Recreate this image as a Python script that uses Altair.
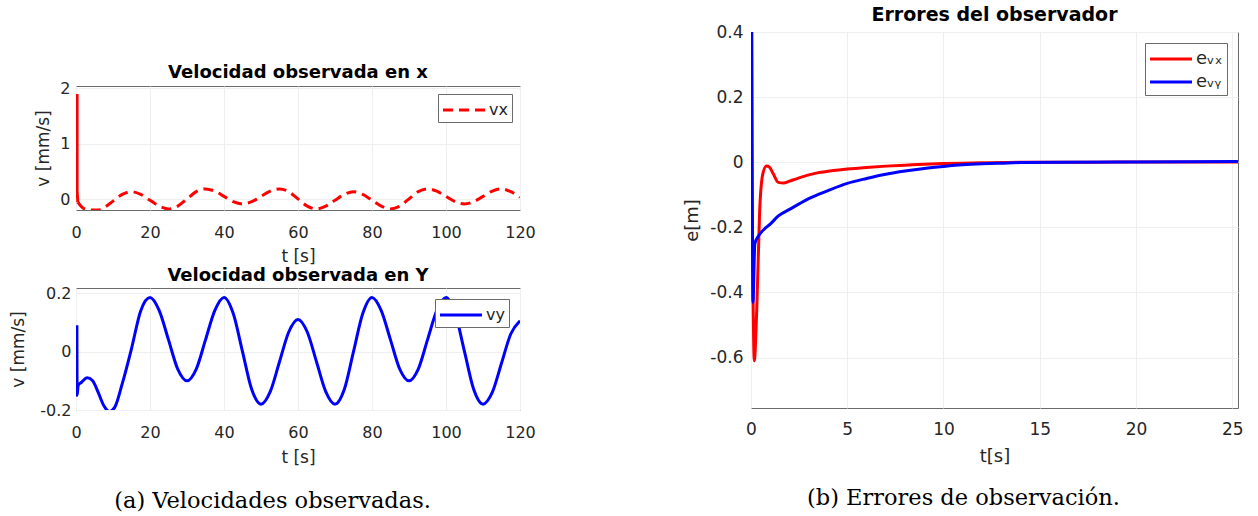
import altair as alt
import pandas as pd

FONT = "DejaVu Sans"
SERIF = "DejaVu Serif"
RED = "#ff0000"
BLUE = "#0000ff"
FRAME = "#6b6b6b"
TXT = "#262626"

# ---- (a) top: observed velocity in x ----
vx_spike_t = [0.3, 0.3, 0.5]
vx_spike_v = [1.9, 0.15, -0.05]
vx_t = [0.5, 2, 4, 6, 7.5, 10, 12.5, 15, 17.5, 20, 22.5, 25, 27.5, 30, 32.5, 35, 37.5, 40,
        42.5, 45, 47.5, 50, 52.5, 55, 57.5, 60, 62.5, 65, 67.5, 70, 72.5, 75, 77.5, 80,
        82.5, 85, 87.5, 90, 92.5, 95, 97.5, 100, 102.5, 105, 107.5, 110, 112.5, 115, 117.5, 120]
vx_v = [-0.05, -0.16, -0.19, -0.19, -0.15, -0.03, 0.09, 0.14, 0.09, -0.015, -0.12, -0.17,
        -0.12, 0.01, 0.14, 0.19, 0.15, 0.055, -0.04, -0.08, -0.04, 0.055, 0.15, 0.19, 0.14,
        0.01, -0.12, -0.17, -0.12, -0.015, 0.09, 0.14, 0.09, -0.015, -0.12, -0.17, -0.12,
        0.01, 0.14, 0.19, 0.15, 0.055, -0.04, -0.08, -0.04, 0.055, 0.15, 0.19, 0.14, 0.04]

# ---- (a) bottom: observed velocity in y ----
vy_t = [0.25, 0.3, 0.6, 1.5, 3, 4.5, 6, 7.5, 9, 10.5, 12.5, 15, 17.5, 20, 22.5, 25, 27.5, 30,
        32.5, 35, 37.5, 40, 42.5, 45, 47.5, 50, 52.5, 55, 57.5, 60, 62.5, 65, 67.5, 70, 72.5,
        75, 77.5, 80, 82.5, 85, 87.5, 90, 92.5, 95, 97.5, 100, 102.5, 105, 107.5, 110, 112.5,
        115, 117.5, 120]
vy_v = [0.09, -0.15, -0.115, -0.105, -0.09, -0.1, -0.14, -0.185, -0.205, -0.19, -0.11, 0.01,
        0.14, 0.185, 0.14, 0.04, -0.06, -0.1, -0.06, 0.04, 0.14, 0.185, 0.13, 0.0, -0.13,
        -0.18, -0.137, -0.035, 0.067, 0.11, 0.067, -0.035, -0.137, -0.18, -0.13, 0.0, 0.13,
        0.185, 0.14, 0.04, -0.06, -0.1, -0.06, 0.04, 0.14, 0.185, 0.13, 0.0, -0.13, -0.18,
        -0.14, -0.04, 0.06, 0.105]

# ---- (b) observer errors ----
ex_t = [0, 0.08, 0.17, 0.3, 0.45, 0.6, 0.8, 0.95, 1.15, 1.42, 1.7, 2, 2.5, 3, 3.5, 4, 5, 6,
        7, 8, 9, 10, 11, 12, 13, 14, 16, 18, 20, 22, 25.3]
ex_v = [0, -0.3, -0.61, -0.45, -0.15, -0.04, -0.012, -0.015, -0.035, -0.062, -0.064, -0.058,
        -0.048, -0.039, -0.032, -0.028, -0.021, -0.016, -0.012, -0.009, -0.006, -0.004,
        -0.003, -0.002, -0.001, 0, 0, 0, 0.001, 0.001, 0.001]
ey_t = [0, 0.03, 0.1, 0.2, 0.38, 0.7, 1, 1.42, 2, 2.5, 3, 3.5, 4, 5, 6, 7, 8, 9, 10, 11, 12,
        13, 14, 16, 20, 25.3]
ey_v = [0, 0.45, -0.43, -0.25, -0.227, -0.205, -0.19, -0.165, -0.145, -0.128, -0.112, -0.099,
        -0.087, -0.065, -0.05, -0.037, -0.027, -0.019, -0.013, -0.008, -0.005, -0.003,
        -0.001, 0, 0.001, 0.002]

x120_ticks = [0, 20, 40, 60, 80, 100, 120]
x25_ticks = [0, 5, 10, 15, 20, 25]
vx_ticks = [0, 1, 2]
vy_ticks = [-0.2, 0, 0.2]
e_ticks = [-0.6, -0.4, -0.2, 0, 0.2, 0.4]

vx_name = "vx"
vy_name = "vy"
e_names = ["e\u1d65\u2093", "e\u1d65\u1d67"]

spike_df = pd.DataFrame({"t": vx_spike_t, "v": vx_spike_v})
vx_df = pd.DataFrame({"t": vx_t, "v": vx_v, "s": vx_name})
vy_df = pd.DataFrame({"t": vy_t, "v": vy_v, "s": vy_name})
e_df = pd.concat([
    pd.DataFrame({"t": ex_t, "v": ex_v, "s": e_names[0], "o": 0}),
    pd.DataFrame({"t": ey_t, "v": ey_v, "s": e_names[1], "o": 1}),
])

DEC = ("datum.value == 0 ? '0' : (datum.value < 0 ? '-' + format(-datum.value, '.1f')"
       " : format(datum.value, '.1f'))")
INT = "format(datum.value, 'd')"


def xaxis(vals, title, lfs, tfs, lpad, tpad):
    return alt.Axis(values=vals, title=title, labelFontSize=lfs, titleFontSize=tfs,
                    labelPadding=lpad, titlePadding=tpad, labelFlush=False,
                    labelOverlap=False, grid=True, ticks=False, tickSize=0, domain=False)


def yaxis(vals, title, lfs, tfs, lpad, tpad, expr):
    return alt.Axis(values=vals, title=title, labelFontSize=lfs, titleFontSize=tfs,
                    labelPadding=lpad, titlePadding=tpad, labelFlush=False,
                    labelOverlap=False, grid=True, ticks=False, tickSize=0, domain=False,
                    labelExpr=expr)


def legend(offset, fs, rowpad=0):
    return alt.Legend(title=None, orient="top-right", offset=offset, strokeColor=FRAME,
                      fillColor="white", padding=4, symbolType="M-2,0H2", symbolSize=441,
                      symbolStrokeWidth=3, symbolOffset=10, labelOffset=13,
                      labelFont=FONT, labelFontSize=fs, labelColor=TXT, rowPadding=rowpad)


def ptitle(text, fs, off):
    return alt.TitleParams(text, fontSize=fs, font=FONT, fontWeight="bold", color="black",
                           offset=off, anchor="middle")


# top-left
xs_a = alt.Scale(domain=[0, 120], nice=False, zero=False)
ys_top = alt.Scale(domain=[-0.19, 2.043], nice=False, zero=False)
spike = alt.Chart(spike_df).mark_line(color=RED, strokeWidth=3, clip=True).encode(
    x=alt.X("t:Q", scale=xs_a), y=alt.Y("v:Q", scale=ys_top))
vx_line = alt.Chart(vx_df).mark_line(strokeWidth=3, interpolate="monotone", clip=True).encode(
    x=alt.X("t:Q", scale=xs_a, axis=xaxis(x120_ticks, "t [s]", 16, 17, 14, 8)),
    y=alt.Y("v:Q", scale=ys_top, axis=yaxis(vx_ticks, "v [mm/s]", 16, 17, 6, 7, INT)),
    color=alt.Color("s:N", scale=alt.Scale(domain=[vx_name], range=[RED]), legend=legend(8, 16)),
    strokeDash=alt.StrokeDash("s:N", scale=alt.Scale(domain=[vx_name], range=[[10, 6]]),
                              legend=legend(8, 16)),
)
top_chart = alt.layer(spike, vx_line).properties(
    width=444, height=124, title=ptitle("Velocidad observada en x", 18, -2))

# bottom-left
ys_bot = alt.Scale(domain=[-0.2, 0.2175], nice=False, zero=False)
bot_chart = alt.Chart(vy_df).mark_line(strokeWidth=3, interpolate="monotone", clip=True).encode(
    x=alt.X("t:Q", scale=xs_a, axis=xaxis(x120_ticks, "t [s]", 16, 17, 14, 9)),
    y=alt.Y("v:Q", scale=ys_bot, axis=yaxis(vy_ticks, "v [mm/s]", 16, 17, 5, 12, DEC)),
    color=alt.Color("s:N", scale=alt.Scale(domain=[vy_name], range=[BLUE]), legend=legend(11, 16)),
).properties(width=444, height=122, title=ptitle("Velocidad observada en Y", 18, 0))

spacer = alt.Chart(pd.DataFrame({"k": [0]})).mark_point(opacity=0).encode(
    x=alt.value(0), y=alt.value(0)
).properties(width=444, height=30, view=alt.ViewBackground(strokeOpacity=0))

left = alt.vconcat(
    spacer, top_chart, bot_chart, spacing=1,
    title=alt.TitleParams("(a) Velocidades observadas.", orient="bottom", font=SERIF,
                          fontSize=22.5, fontWeight="normal", color="black", offset=24,
                          anchor="middle", frame="bounds"),
).resolve_scale(color="independent", strokeDash="independent").resolve_legend(
    color="independent", strokeDash="independent")

# right
xs_b = alt.Scale(domain=[0, 25.3], nice=False, zero=False)
ys_b = alt.Scale(domain=[-0.755, 0.4], nice=False, zero=False)
right_chart = alt.Chart(e_df).mark_line(strokeWidth=3, interpolate="monotone", clip=True).encode(
    x=alt.X("t:Q", scale=xs_b, axis=xaxis(x25_ticks, "t[s]", 17, 18, 13, 10)),
    y=alt.Y("v:Q", scale=ys_b, axis=yaxis(e_ticks, "e[m]", 17, 18, 8, 8, DEC)),
    color=alt.Color("s:N", scale=alt.Scale(domain=e_names, range=[RED, BLUE]),
                    legend=legend(11, 18, 2)),
    order=alt.Order("o:Q"),
).properties(width=487, height=376, title=ptitle("Errores del observador", 19, -2))

right = alt.vconcat(
    right_chart,
    title=alt.TitleParams("(b) Errores de observación.", orient="bottom", font=SERIF,
                          fontSize=22.5, fontWeight="normal", color="black", offset=21,
                          anchor="middle", frame="bounds"),
).resolve_scale(color="independent").resolve_legend(color="independent")

chart = alt.hconcat(left, right, spacing=147).resolve_scale(
    color="independent", strokeDash="independent"
).resolve_legend(color="independent", strokeDash="independent").properties(
    padding={"left": 9, "top": 5, "right": 0, "bottom": 0},
    background="white",
).configure_view(stroke=FRAME, strokeWidth=1).configure_axis(
    labelFont=FONT, titleFont=FONT, labelColor=TXT, titleColor=TXT,
    titleFontWeight="normal", gridColor="#efefef", gridWidth=1,
)

chart.save("out.html", embed_options={"renderer": "svg", "actions": False})
